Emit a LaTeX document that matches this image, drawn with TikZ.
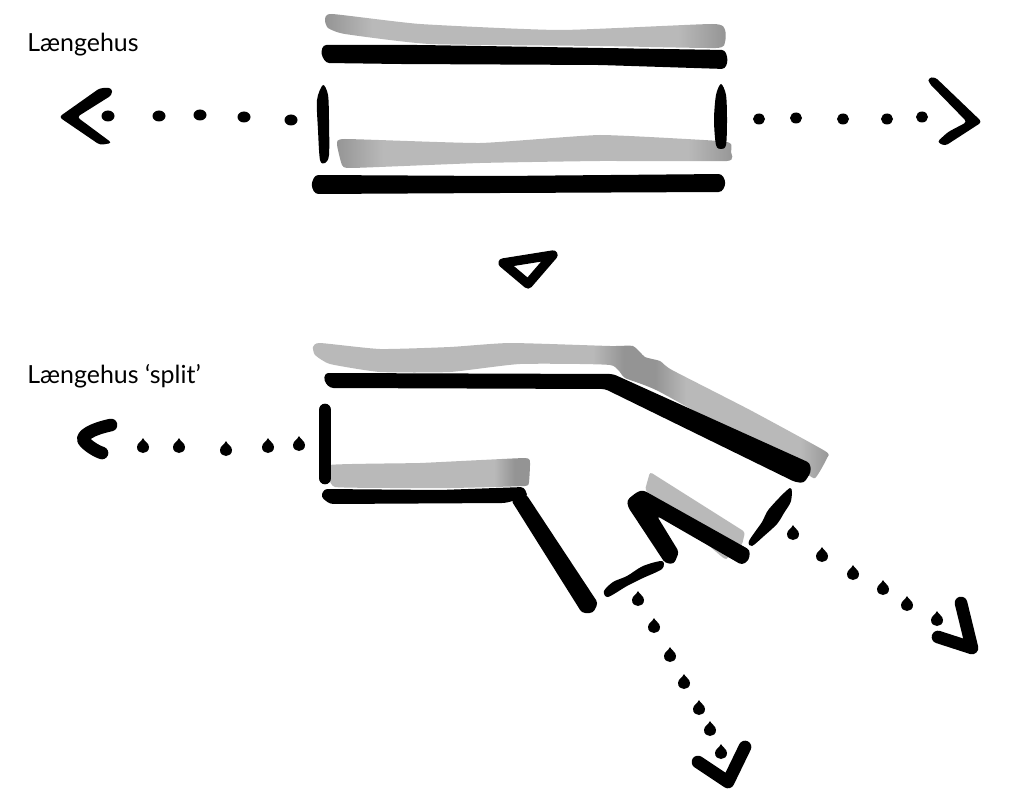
\documentclass[tikz,border=0pt]{standalone}
\usepackage{fontspec}
\setmainfont{Lato}
\definecolor{washgrey}{HTML}{B9B9B9}
\definecolor{washdeep}{HTML}{949494}
\pgfdeclarehorizontalshading{washboth}{100bp}{color(0bp)=(washdeep); color(25bp)=(washdeep); color(31bp)=(washgrey); color(69bp)=(washgrey); color(75bp)=(washdeep); color(100bp)=(washdeep)}
\pgfdeclarehorizontalshading{washend}{100bp}{color(0bp)=(washgrey); color(66bp)=(washgrey); color(71bp)=(washdeep); color(100bp)=(washdeep)}
\pgfdeclarehorizontalshading{washbend}{100bp}{color(0bp)=(washgrey); color(25bp)=(washgrey); color(52bp)=(washgrey); color(55bp)=(washdeep); color(58bp)=(washdeep); color(61bp)=(washgrey); color(72bp)=(washgrey); color(75bp)=(washdeep); color(100bp)=(washdeep)}
\tikzset{
  ink/.style={draw=black,line cap=round,line join=round},
  inkbar/.style={fill=black,draw=none,rounded corners=2.5pt},
  inkdot/.style={fill=black,draw=none},
  caption/.style={anchor=west,inner sep=0pt,font=\fontsize{18.7}{22}\selectfont}
}
\newcommand{\inkdrop}[1]{\fill[inkdot] #1 ++(0,-9) .. controls +(1,3) and +(0,-4) .. ++(6,9) .. controls +(0,4) and +(3,0) .. ++(-6,6) .. controls +(-3,0) and +(0,4) .. ++(-6,-6) .. controls +(0,-4) and +(-1,3) .. ++(6,-9) -- cycle;}
\begin{document}
\begin{tikzpicture}[x=0.75pt,y=-0.75pt]
\useasboundingbox (0,0) rectangle (1024,806);
\fill[white] (0,0) rectangle (1024,806);
\node[caption] (t1) at (27,45) {Længehus};
\node[caption] (t2) at (27,376) {Længehus ‘split’};
% top building
\path[shading=washboth] plot[smooth cycle,tension=.3] coordinates {(325,20)(332,14)(420,24)(560,30)(712,24)(725,30)(725,42)(716,48)(600,46)(430,44)(345,34)(328,28)};
\fill[inkbar] (323,45)--(420,45)--(725,50)--(728,60)--(725,69)--(600,65)--(400,64)--(326,63)--(321,54)--cycle;
\fill[black] plot[smooth cycle,tension=.5] coordinates {(323,85)(328,95)(329,120)(329,155)(325,163)(320,160)(318,130)(317,100)};
\path[shading=washboth] plot[smooth cycle,tension=.25] coordinates {(337,144)(345,139)(480,143)(600,135)(720,141)(731,144)(731,152)(727,161)(600,161)(480,163)(352,168)(342,165)};
\fill[black] plot[smooth cycle,tension=.5] coordinates {(721,84)(726,95)(727,120)(726,145)(721,149)(716,145)(714,120)(716,95)};
\fill[inkbar] (315,175)--(500,176)--(722,174)--(726,183)--(722,192)--(500,193)--(315,194)--(311,185)--cycle;
% top arrows and dots
\fill[inkbar] (112,88)--(100,88)--(59,117)--(100,145)--(112,143)--(77,117)--(112,95)--cycle;
\foreach \p in {(108,116),(159,116),(200,115),(244,117),(291,120)}
  \fill[inkdot] \p ellipse (6.5 and 5.5);
\foreach \p in {(759,119),(796,118),(843,119),(887,119),(922,117)}
  \fill[inkdot] \p ellipse (6 and 5.5);
\fill[inkbar] (928,78)--(935,77)--(982,122)--(945,146)--(937,142)--(948,132)--(967,122)--(929,83)--cycle;
% triangle
\draw[ink,line width=7pt] (503,263)--(553,255)--(528,284)--cycle;
% lower building
\path[shading=washbend] plot[smooth cycle,tension=.3] coordinates {(313,347)(320,343)(380,349)(450,347)(510,343)(610,346)(633,346)(645,357)(660,361)(672,370)(750,410)(825,451)(827,458)(815,478)(800,470)(660,392)(625,378)(610,365)(520,364)(450,372)(380,372)(330,364)(315,355)};
\fill[inkbar] (325,373)--(613,374)--(810,463)--(811,472)--(804,483)--(795,482)--(605,389)--(330,388)--(324,381)--cycle;
\path[shading=washend] plot[smooth cycle,tension=.2] coordinates {(330,465)(420,463)(525,458)(530,463)(529,482)(525,486)(450,488)(335,487)};
\draw[ink,line width=9.5pt] (325,410)--(325,478);
\fill[inkbar] (324,489)--(440,490)--(524,487)--(528,497)--(505,503)--(330,504)--(321,497)--cycle;
\fill[inkbar] (511,500)--(526,494)--(598,603)--(593,613)--(582,613)--cycle;
% small wing
\fill[washgrey,rounded corners=2pt] (650,472)--(745,532)--(742,545)--(730,552)--(727,560)--(722,557)--(645,490)--cycle;
\fill[inkbar] (627,500)--(637,492)--(643,490)--(750,550)--(749,560)--(742,565)--(657,516)--(679,552)--(674,564)--(665,563)--(628,507)--cycle;
\fill[black] plot[smooth cycle,tension=.5] coordinates {(604,591)(613,582)(627,576)(643,566)(662,561)(662,569)(643,578)(627,586)(608,597)};
\fill[black] plot[smooth cycle,tension=.5] coordinates {(749,541)(762,522)(769,509)(790,488)(791,501)(784,513)(777,524)(764,536)(752,546)};
% lower left arrow
\draw[ink,line width=9.5pt] (111,425) .. controls (92,429) and (80,436) .. (84,441) .. controls (88,446) and (96,451) .. (102,453);
\foreach \p in {(143,447),(179,447),(226,450),(268,447),(299,445)} {\inkdrop{\p}}
% diagonal dots and arrow 1
\foreach \p in {(638,600),(654,627),(670,656),(684,683),(699,709),(710,730),(721,753)} {\inkdrop{\p}}
\draw[ink,line width=9.5pt] (745,747)--(728,782)--(698,762);
% diagonal dots and arrow 2
\foreach \p in {(793,534),(822,556),(853,574),(883,589),(907,605),(937,620)} {\inkdrop{\p}}
\draw[ink,line width=9.5pt] (961,603)--(972,648)--(938,637);
\end{tikzpicture}
\end{document}
